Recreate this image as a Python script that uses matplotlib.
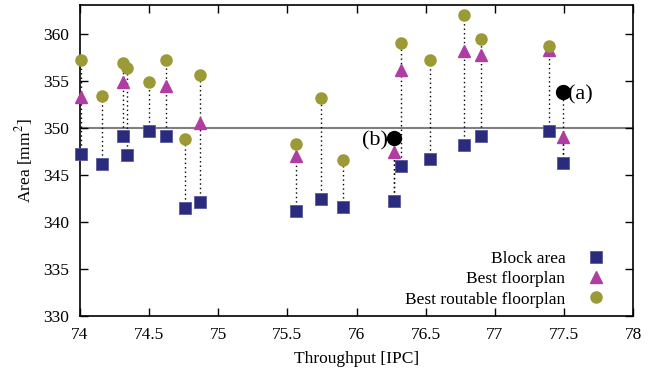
import numpy as np
import matplotlib
matplotlib.use('Agg')
import matplotlib.pyplot as plt

plt.rcParams['font.family'] = ['Liberation Serif', 'DejaVu Serif']
plt.rcParams['mathtext.fontset'] = 'stix'

# one entry per design point
throughput = [74.01, 74.16, 74.31, 74.34, 74.50, 74.62, 74.76, 74.87,
              75.56, 75.74, 75.90, 76.27, 76.32, 76.53, 76.78, 76.90,
              77.39, 77.49]
block_area = [347.2, 346.1, 349.1, 347.1, 349.7, 349.1, 341.5, 342.1,
              341.1, 342.4, 341.6, 342.2, 345.9, 346.7, 348.2, 349.1,
              349.6, 346.2]
# nan = not drawn for that point
best_fp = [353.3, np.nan, 354.8, np.nan, np.nan, 354.4, np.nan, 350.5,
           347.0, np.nan, np.nan, 347.4, 356.1, np.nan, 358.1, 357.7,
           358.3, 349.0]
best_routable = [357.2, 353.4, 356.9, 356.3, 354.8, 357.2, 348.8, 355.6,
                 348.3, 353.2, 346.6, np.nan, 359.0, 357.2, 362.0, 359.4,
                 358.7, np.nan]

# annotated points
ann_labels = ['(a)', '(b)']
ann_x = [77.49, 76.27]
ann_y = [353.8, 348.9]

x = np.array(throughput)
sq = np.array(block_area)
tri = np.array(best_fp)
circ = np.array(best_routable)

fig = plt.figure(figsize=(6.57, 3.82), dpi=100)
ax = fig.add_axes([0.1218, 0.1728, 0.8417, 0.8134])

ax.axhline(350, color='#808080', lw=1.5, zorder=1)

# dotted drop lines from block area to highest result
tops = np.nanmax(np.vstack([sq, tri, circ]), axis=0)
for xi, lo, hi in zip(x, sq, tops):
    ax.plot([xi, xi], [lo, hi], color='black', ls=(0, (1, 2.2)), lw=1.0, zorder=2)
for xi, yi in zip(ann_x, ann_y):
    lo = sq[np.argmin(np.abs(x - xi))]
    ax.plot([xi, xi], [lo, yi], color='black', ls=(0, (1, 2.2)), lw=1.0, zorder=2)

ax.plot(x, sq, 's', ms=8, color='#2b2b7e', mec='#5a5aa0', mew=0.6,
        ls='none', zorder=3, clip_on=False, label='Block area')
ax.plot(x, tri, '^', ms=8, color='#b03ea2', mec='#b03ea2',
        ls='none', zorder=3, clip_on=False, label='Best floorplan')
ax.plot(x, circ, 'o', ms=8, color='#9b9a36', mec='#9b9a36',
        ls='none', zorder=4, clip_on=False, label='Best routable floorplan')

ax.plot(ann_x, ann_y, 'o', ms=10, color='black', ls='none', zorder=5)
ax.text(ann_x[0] + 0.04, ann_y[0], ann_labels[0], fontsize=16,
        ha='left', va='center_baseline')
ax.text(ann_x[1] - 0.04, ann_y[1], ann_labels[1], fontsize=16,
        ha='right', va='center_baseline')

ax.set_xlim(74, 78)
ax.set_ylim(330, 363)
ax.set_xticks(np.arange(74, 78.01, 0.5))
ax.set_xticklabels(['74', '74.5', '75', '75.5', '76', '76.5', '77', '77.5', '78'])
ax.set_yticks(np.arange(330, 361, 5))
ax.tick_params(direction='in', top=True, right=True, length=6, width=1,
               labelsize=12.5, pad=8)
for s in ax.spines.values():
    s.set_linewidth(1.2)

ax.set_xlabel('Throughput [IPC]', fontsize=12.5, labelpad=6)
ax.set_ylabel('Area [mm$^2$]', fontsize=12.5, labelpad=6)

ax.legend(loc='lower right', bbox_to_anchor=(0.978, -0.012), frameon=False,
          markerfirst=False, fontsize=12.5, handlelength=1.5,
          handletextpad=1.0, labelspacing=0.25, borderaxespad=0.3)

fig.savefig('out.png', dpi=100)
